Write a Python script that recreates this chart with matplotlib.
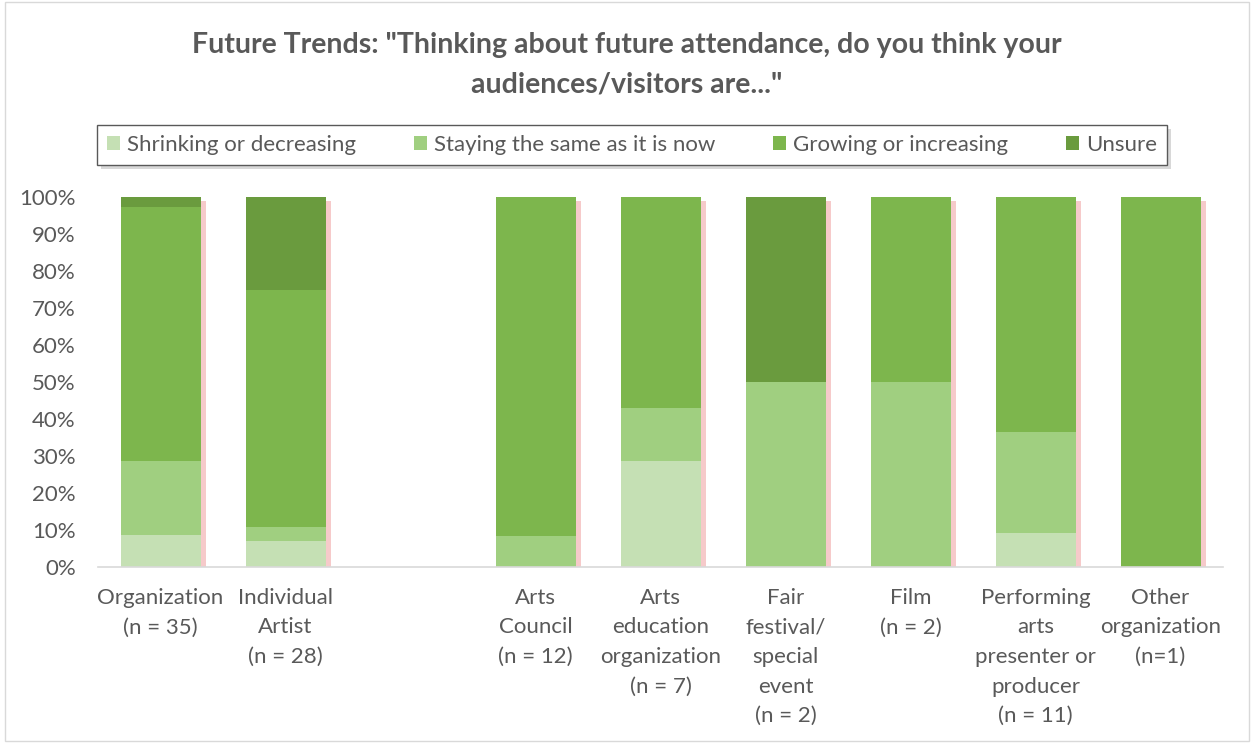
import matplotlib
matplotlib.use("Agg")
import matplotlib.pyplot as plt
import matplotlib.patheffects as pe
from matplotlib.patches import Rectangle, Patch
import numpy as np

categories = ["Organization\n(n = 35)", "Individual\nArtist\n(n = 28)", "",
              "Arts\nCouncil\n(n = 12)", "Arts\neducation\norganization\n(n = 7)",
              "Fair\nfestival/\nspecial\nevent\n(n = 2)", "Film\n(n = 2)",
              "Performing\narts\npresenter or\nproducer\n(n = 11)", "Other\norganization\n(n=1)"]
shrinking = [8.6, 7.1, 0, 0.0, 28.6, 0.0, 0.0, 9.1, 0.0]
same      = [20.0, 3.6, 0, 8.3, 14.3, 50.0, 50.0, 27.3, 0.0]
growing   = [68.6, 64.3, 0, 91.7, 57.1, 0.0, 50.0, 63.6, 100.0]
unsure    = [2.9, 25.0, 0, 0.0, 0.0, 50.0, 0.0, 0.0, 0.0]
series_names = ["Shrinking or decreasing", "Staying the same as it is now",
                "Growing or increasing", "Unsure"]
colors = ["#C5E0B4", "#A0CF80", "#7DB64D", "#6A9B3E"]

plt.rcParams['font.family'] = ['Lato', 'DejaVu Sans']

fig = plt.figure(figsize=(12.54, 7.43), dpi=100)
fig.patches.append(Rectangle((0.004, 0.003), 0.992, 0.994, transform=fig.transFigure,
                             fill=False, edgecolor="#D9D9D9", linewidth=1))
ax = fig.add_axes([98/1254, 1 - 567/743, 1125/1254, 370/743])

x = np.arange(len(categories))
all_series = [shrinking, same, growing, unsure]
totals = np.sum(np.array(all_series), axis=0) / 100.0

# shadows behind each stacked column
sh = ax.bar(x, totals, 0.64, color="white", zorder=2)
for b, t in zip(sh, totals):
    if t > 0:
        b.set_path_effects([pe.SimplePatchShadow(offset=(4, -3), shadow_rgbFace="#F0A8A8", alpha=0.6)])
    else:
        b.set_visible(False)

bottom = np.zeros(len(categories))
for vals, name, c in zip(all_series, series_names, colors):
    v = np.array(vals) / 100.0
    ax.bar(x, v, 0.64, bottom=bottom, color=c, zorder=3)
    bottom += v

ax.set_xlim(-0.5, len(categories) - 0.5)
ax.set_ylim(0, 1)
yt = np.arange(0, 1.01, 0.1)
ax.set_yticks(yt)
ax.set_yticklabels([f"{int(round(t*100))}%" for t in yt], fontsize=16, color="#595959")
ax.set_xticks(x)
ax.set_xticklabels(categories, fontsize=16, color="#595959", linespacing=1.6, va="top")
ax.tick_params(axis="both", length=0)
ax.tick_params(axis="x", pad=15)
ax.tick_params(axis="y", pad=16)
for s in ["top", "right", "left"]:
    ax.spines[s].set_visible(False)
ax.spines["bottom"].set_color("#D9D9D9")
ax.spines["bottom"].set_linewidth(1.2)
ax.spines["bottom"].set_zorder(5)

fig.text(0.5, 1 - 45/743, "Future Trends: \"Thinking about future attendance, do you think your",
         ha="center", va="center", fontsize=20.5, fontweight="bold", color="#595959")
fig.text(0.5, 1 - 85/743, "audiences/visitors are...\"",
         ha="center", va="center", fontsize=20.5, fontweight="bold", color="#595959")

handles = [Patch(facecolor=c, edgecolor="none") for c in colors]
leg = fig.legend(handles=handles, labels=series_names, loc="center",
                 bbox_to_anchor=(632/1254, 1 - 145/743), ncol=4, frameon=True,
                 fontsize=16, handlelength=0.6, handleheight=0.6, handletextpad=0.3,
                 columnspacing=2.6, borderpad=0.45, borderaxespad=0, fancybox=False,
                 shadow=False, framealpha=1)
for t in leg.get_texts():
    t.set_color("#595959")
frame = leg.get_frame()
frame.set_facecolor("white")
frame.set_edgecolor("#595959")
frame.set_linewidth(1.0)
frame.set_path_effects([pe.SimplePatchShadow(offset=(3, -3), shadow_rgbFace="#BFBFBF", alpha=0.6), pe.Normal()])

fig.savefig("out.png", dpi=100)
